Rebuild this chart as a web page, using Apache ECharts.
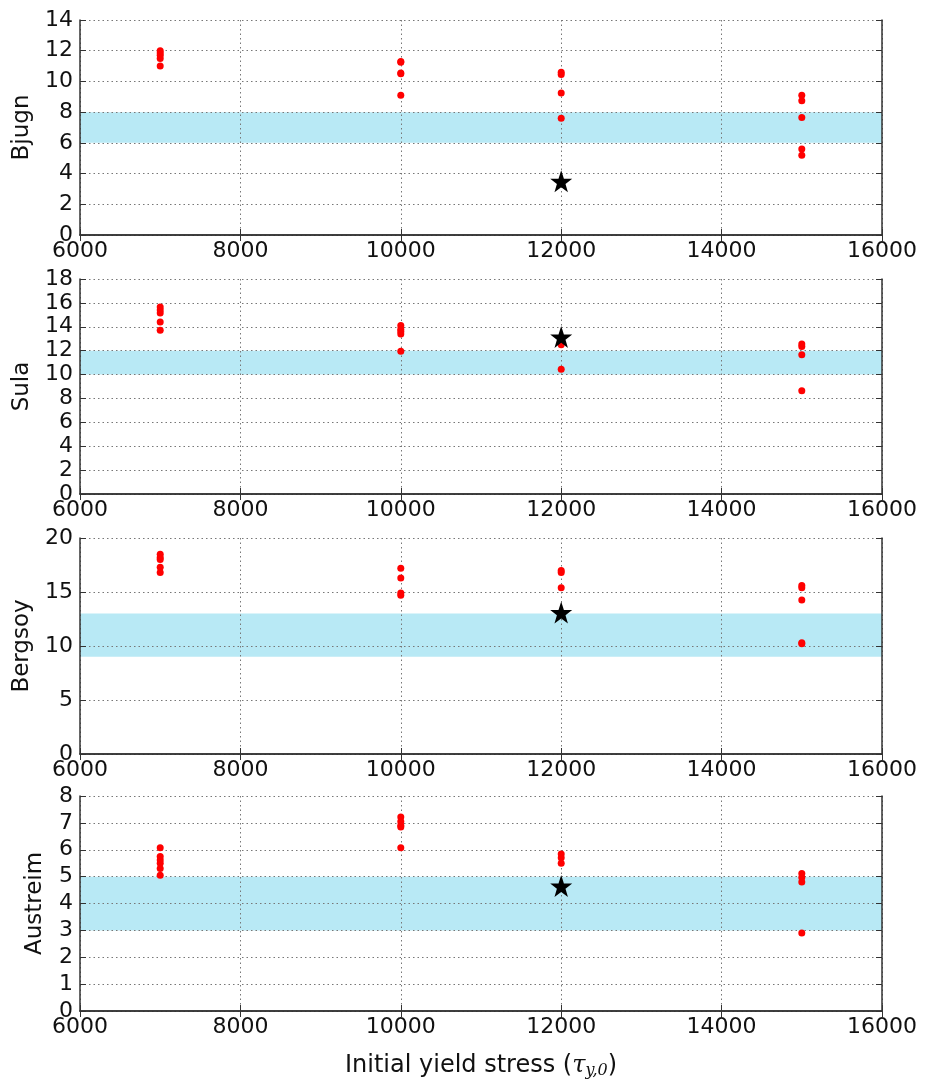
<!DOCTYPE html>
<html><head><meta charset="utf-8">
<script src="https://cdn.jsdelivr.net/npm/echarts@6/dist/echarts.min.js"></script>
<style>html,body{margin:0;padding:0;background:#fff}#c{width:928px;height:1080px}</style>
</head><body><div id="c"></div>
<script>
const xGroups = [7000, 10000, 12000, 15000];
const siteNames = ['Bjugn', 'Sula', 'Bergsoy', 'Austreim'];
const yMax = [14, 18, 20, 8];
const yStep = [2, 2, 5, 1];
const bands = [[6, 8], [10, 12], [9, 13], [3, 5]];
const starX = 12000;
const starValues = [3.5, 13.15, 13.1, 4.65];

const bjugn = [[12.0, 11.85, 11.7, 11.5, 11.0], [11.3, 11.25, 10.55, 10.5, 9.1], [10.6, 10.45, 9.25, 7.6], [9.1, 8.75, 7.65, 5.6, 5.2]];
const sula = [[15.65, 15.4, 15.15, 14.4, 13.7], [14.1, 13.8, 13.6, 13.4, 11.95], [13.0, 12.5, 10.45], [12.55, 12.35, 11.65, 8.65]];
const bergsoy = [[18.5, 18.2, 18.0, 17.3, 16.8], [17.2, 16.3, 14.9, 14.7], [17.0, 16.8, 15.4], [15.6, 15.4, 14.25, 10.3, 10.2]];
const austreim = [[6.07, 5.75, 5.62, 5.5, 5.3, 5.05], [7.22, 7.05, 6.9, 6.85, 6.07], [5.84, 5.7, 5.5], [5.12, 4.97, 4.8, 2.9]];
const siteData = [bjugn, sula, bergsoy, austreim];

const gridTops = [20, 279, 538, 796];
const gridH = [215, 215, 216, 215];
const nameGaps = [46, 46, 46, 33];
const FONT = 'DejaVu Sans';
const STAR = 'path://M50,0 L61.8,35.1 L98.1,35.1 L68.8,56.7 L79.4,90.9 L50,69.8 L20.6,90.9 L31.2,56.7 L1.9,35.1 L38.2,35.1 Z';
const frame = { show: true, lineStyle: { color: '#333', width: 1.5 } };
const split = { show: true, lineStyle: { color: '#777', type: [1.5, 3], width: 1 } };
const plain = v => String(v);

const grid = [], xAxis = [], yAxis = [], series = [];
for (let i = 0; i < 4; i++) {
  grid.push({ left: 80, right: 46, top: gridTops[i], height: gridH[i] });
  const xb = {
    type: 'value', gridIndex: i, min: 6000, max: 16000, interval: 2000, position: 'bottom', z: 3,
    axisLine: frame, axisTick: { show: true, inside: true, length: 6, lineStyle: { color: '#333' } },
    axisLabel: { color: '#111', fontSize: 22, fontFamily: FONT, margin: 5, formatter: plain },
    splitLine: split
  };
  if (i === 3) {
    xb.name = '{a|Initial yield stress (}{t|τ}{s|y,0}{a|)}';
    xb.nameLocation = 'middle';
    xb.nameGap = 42;
    xb.nameTextStyle = {
      rich: {
        a: { fontSize: 24, fontFamily: FONT, color: '#111' },
        t: { fontSize: 24, fontFamily: 'DejaVu Serif', fontStyle: 'italic', color: '#111' },
        s: { fontSize: 16, fontFamily: 'DejaVu Serif', fontStyle: 'italic', color: '#111', verticalAlign: 'bottom', padding: [10, 0, 0, 0] }
      }
    };
  }
  xAxis.push(xb);
  xAxis.push({
    type: 'value', gridIndex: i, min: 6000, max: 16000, interval: 2000, position: 'top', z: 3,
    axisLine: frame, axisTick: { show: true, inside: true, length: 6, lineStyle: { color: '#333' } },
    axisLabel: { show: false }, splitLine: { show: false }
  });
  yAxis.push({
    type: 'value', gridIndex: i, min: 0, max: yMax[i], interval: yStep[i], position: 'left', z: 3,
    axisLine: frame, axisTick: { show: true, inside: true, length: 6, lineStyle: { color: '#333' } },
    axisLabel: { color: '#111', fontSize: 22, fontFamily: FONT, margin: 7, formatter: plain },
    splitLine: split,
    name: siteNames[i], nameLocation: 'middle', nameGap: nameGaps[i], nameRotate: 90,
    nameTextStyle: { fontSize: 23, fontFamily: FONT, color: '#111' }
  });
  yAxis.push({
    type: 'value', gridIndex: i, min: 0, max: yMax[i], interval: yStep[i], position: 'right', z: 3,
    axisLine: frame, axisTick: { show: true, inside: true, length: 6, lineStyle: { color: '#333' } },
    axisLabel: { show: false }, splitLine: { show: false }
  });
  const pts = [];
  siteData[i].forEach((grp, j) => grp.forEach(v => pts.push([xGroups[j], v])));
  series.push({
    type: 'line', xAxisIndex: 2 * i, yAxisIndex: 2 * i, data: [], z: 1, silent: true,
    markArea: { silent: true, itemStyle: { color: '#b8e9f5', opacity: 1 },
      data: [[{ xAxis: 6000, yAxis: bands[i][0] }, { xAxis: 16000, yAxis: bands[i][1] }]] }
  });
  series.push({
    type: 'scatter', xAxisIndex: 2 * i, yAxisIndex: 2 * i, data: pts, z: 5,
    symbol: 'circle', symbolSize: 7, itemStyle: { color: '#ff0000', opacity: 1 }
  });
  series.push({
    type: 'scatter', xAxisIndex: 2 * i, yAxisIndex: 2 * i, data: [[starX, starValues[i]]], z: 6,
    symbol: STAR, symbolSize: 22, itemStyle: { color: '#000', opacity: 1 }
  });
}

const chart = echarts.init(document.getElementById('c'), null, { renderer: 'canvas' });
chart.setOption({ animation: false, backgroundColor: '#fff', grid, xAxis, yAxis, series });
</script>
</body></html>
